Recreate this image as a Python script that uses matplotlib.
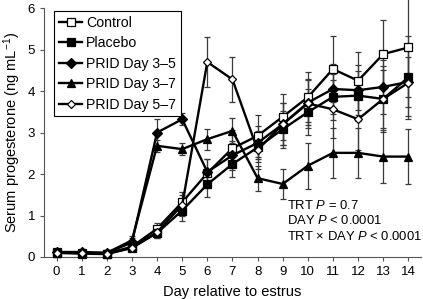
import matplotlib.pyplot as plt

plt.rcParams['font.family'] = ['Liberation Sans', 'DejaVu Sans']
plt.rcParams['mathtext.fontset'] = 'custom'
plt.rcParams['mathtext.rm'] = 'Liberation Sans'
plt.rcParams['mathtext.it'] = 'Liberation Sans:italic'

# 数据
days = list(range(15))
control = [0.12, 0.10, 0.08, 0.25, 0.68, 1.32, 2.02, 2.62, 2.92, 3.38, 3.85, 4.53, 4.25, 4.89, 5.05]
control_se = [0.05, 0.04, 0.04, 0.08, 0.15, 0.25, 0.35, 0.45, 0.5, 0.55, 0.6, 0.8, 0.7, 0.82, 1.2]
placebo = [0.10, 0.08, 0.07, 0.22, 0.58, 1.12, 1.75, 2.24, 2.64, 3.08, 3.49, 3.86, 3.89, 3.81, 4.33]
placebo_se = [0.04, 0.04, 0.03, 0.06, 0.12, 0.25, 0.3, 0.3, 0.35, 0.45, 0.55, 0.55, 0.6, 0.7, 1.0]
prid35 = [0.12, 0.12, 0.10, 0.35, 3.00, 3.32, 2.05, 2.45, 2.75, 3.20, 3.72, 4.05, 4.02, 4.10, 4.22]
prid35_se = [0.05, 0.05, 0.04, 0.1, 0.33, 0.15, 0.3, 0.35, 0.4, 0.5, 0.55, 0.6, 0.6, 0.65, 0.6]
prid37 = [0.10, 0.10, 0.10, 0.40, 2.68, 2.60, 2.84, 3.04, 1.90, 1.76, 2.20, 2.51, 2.51, 2.42, 2.42]
prid37_se = [0.05, 0.05, 0.04, 0.1, 0.15, 0.15, 0.25, 0.3, 0.3, 0.36, 0.55, 0.6, 0.6, 0.63, 0.66]
prid57 = [0.10, 0.10, 0.08, 0.22, 0.60, 1.25, 4.70, 4.28, 2.58, 3.20, 3.70, 3.56, 3.32, 3.81, 4.20]
prid57_se = [0.04, 0.04, 0.03, 0.06, 0.15, 0.25, 0.6, 0.55, 0.45, 0.5, 0.6, 0.7, 0.75, 0.8, 0.8]

series = [
    ('Control', control, control_se, 's', 'white', 6.3),
    ('Placebo', placebo, placebo_se, 's', 'black', 6.3),
    ('PRID Day 3–5', prid35, prid35_se, 'D', 'black', 5.0),
    ('PRID Day 3–7', prid37, prid37_se, '^', 'black', 6.3),
    ('PRID Day 5–7', prid57, prid57_se, 'D', 'white', 4.2),
]

fig = plt.figure(figsize=(4.23, 2.99), dpi=100)
ax = fig.add_axes([0.104, 0.1405, 0.891, 0.8325])

# 误差棒
for name, vals, se, mk, fc, ms in series:
    ax.errorbar(days, vals, yerr=se, fmt='none', ecolor='#3a3a3a', elinewidth=0.9,
                capsize=2.3, capthick=0.9, zorder=1, clip_on=False)

# 折线
for name, vals, se, mk, fc, ms in series:
    ax.plot(days, vals, color='black', linewidth=1.7, marker=mk, markersize=ms,
            markerfacecolor=fc, markeredgecolor='black', markeredgewidth=0.9,
            label=name, zorder=3, clip_on=False)

ax.set_xlim(-0.5, 14.5)
ax.set_ylim(0, 6)
ax.set_xticks(days)
ax.set_yticks(range(7))
ax.spines['top'].set_visible(False)
ax.spines['right'].set_visible(False)
ax.spines['left'].set_color('#555555')
ax.spines['bottom'].set_color('#555555')
ax.tick_params(labelsize=9.5, length=3, color='#555555')
ax.set_xlabel('Day relative to estrus', fontsize=10.5, labelpad=5)
ax.set_ylabel('Serum progesterone (ng mL$^{-1}$)', fontsize=10.5, labelpad=3)

leg = ax.legend(loc='upper left', bbox_to_anchor=(0.016, 1.005), fontsize=10.2,
                fancybox=False, edgecolor='black', handlelength=1.6,
                borderpad=0.35, labelspacing=0.45, handletextpad=0.3,
                borderaxespad=0.3, framealpha=1)
leg.get_frame().set_linewidth(0.8)

ax.text(0.645, 0.205, 'TRT $P$ = 0.7', transform=ax.transAxes, fontsize=9.4, va='center')
ax.text(0.645, 0.145, 'DAY $P$ < 0.0001', transform=ax.transAxes, fontsize=9.4, va='center')
ax.text(0.645, 0.082, 'TRT × DAY $P$ < 0.0001', transform=ax.transAxes, fontsize=9.4, va='center')

plt.savefig('out.png', dpi=100)
